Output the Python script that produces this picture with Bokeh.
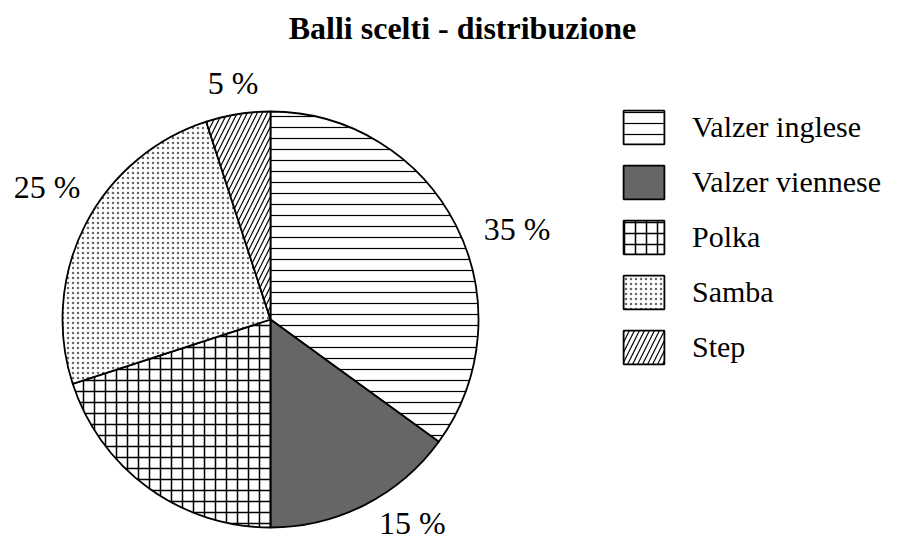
import math
from bokeh.plotting import figure
from bokeh.models import Range1d, Label, Legend, LegendItem
from bokeh.embed import file_html
from bokeh.resources import INLINE

# ---- data ----
categories = ["Valzer inglese", "Valzer viennese", "Polka", "Samba", "Step"]
percent = [35, 15, 20, 25, 5]
pct_labels = ["35 %", "15 %", "", "25 %", "5 %"]

# ---- styles ----
fills = ["white", "#666666", "white", "white", "white"]
hatches = ["horizontal_line", " ", "cross", "dot", "right_diagonal_line"]
hatch_scales = [11, 11, 11, 5, 10]
hatch_colors = ["black", "black", "black", "#666666", "black"]
hatch_weights = [1.2, 1, 1.5, 1, 1.2]
label_align = ["left", "left", "left", "right", "center"]
label_base = ["top", "bottom", "middle", "bottom", "middle"]
label_dx = [0, 0, 0, 23, 0]
label_dy = [0, -8, 0, 6, 0]

W, H = 898, 542
PAGE_H = 542
cx, cy, R = 270, PAGE_H - 319, 208

p = figure(width=W, height=H, output_backend="svg", toolbar_location=None,
           x_range=Range1d(0, W), y_range=Range1d(PAGE_H - H, PAGE_H),
           x_axis_location=None, y_axis_location=None, min_border=0)
p.outline_line_color = None
p.grid.visible = False

total = sum(percent)
cum = 0.0
starts, ends, mids = [], [], []
for v in percent:
    a0 = cum / total * 2 * math.pi
    cum += v
    a1 = cum / total * 2 * math.pi
    starts.append(math.pi / 2 - a1)
    ends.append(math.pi / 2 - a0)
    mids.append((a0 + a1) / 2)

items = []
for i, cat in enumerate(categories):
    r = p.wedge(x=cx, y=cy, radius=R, start_angle=starts[i], end_angle=ends[i],
                fill_color=fills[i], line_color="black", line_width=1.8,
                hatch_pattern=hatches[i], hatch_scale=hatch_scales[i],
                hatch_color=hatch_colors[i], hatch_weight=hatch_weights[i])
    items.append(LegendItem(label=cat, renderers=[r]))

lr = 1.15 * R
for i, t in enumerate(pct_labels):
    if not t:
        continue
    lx = cx + lr * math.sin(mids[i])
    ly = cy + lr * math.cos(mids[i])
    p.add_layout(Label(x=lx, y=ly, x_offset=label_dx[i], y_offset=label_dy[i],
                       text=t, text_font="Liberation Serif",
                       text_font_size="32px", text_align=label_align[i],
                       text_baseline=label_base[i], text_color="black"))

p.add_layout(Label(x=462, y=PAGE_H - 27, text="Balli scelti - distribuzione",
                   text_font="Liberation Serif", text_font_size="32px",
                   text_font_style="bold", text_align="center",
                   text_baseline="middle", text_color="black"))

legend = Legend(items=items, location=(618, 174), border_line_color=None,
                background_fill_alpha=0, glyph_width=51, glyph_height=42,
                label_text_font="Liberation Serif", label_text_font_size="30px",
                label_text_color="black", label_standoff=23, spacing=13,
                padding=0, margin=0)
p.add_layout(legend)

open("out.html", "w").write(file_html(p, INLINE))
